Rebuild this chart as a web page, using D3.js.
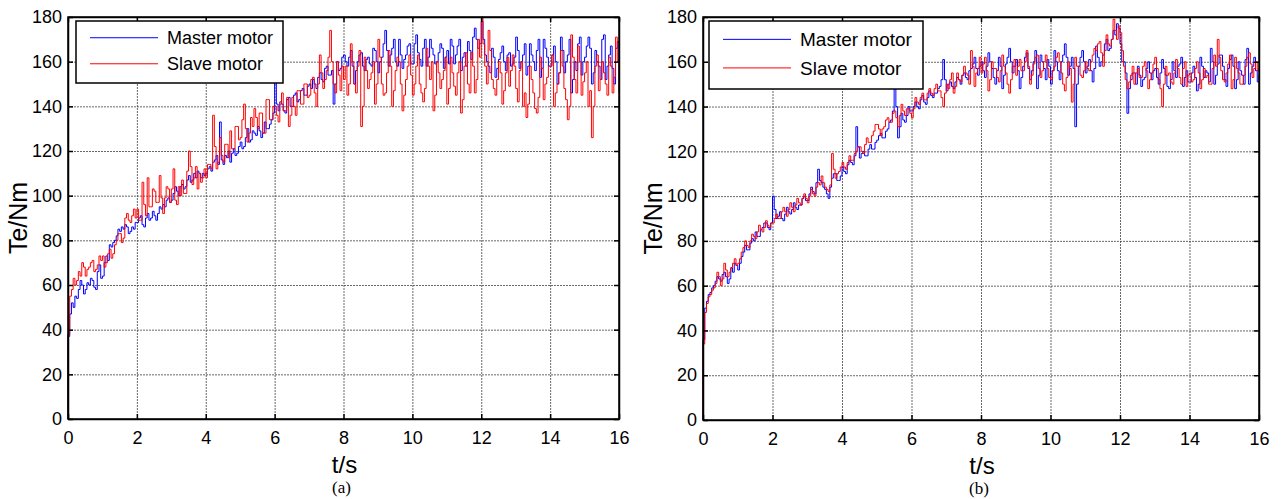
<!DOCTYPE html>
<html>
<head>
<meta charset="utf-8">
<script src="https://cdn.jsdelivr.net/npm/d3@7"></script>
<style>
  body { margin: 0; background: #fff; }
  svg { display: block; }
  .tick text { font-family: Arial, "Liberation Sans", sans-serif; font-size: 18px; fill: #000; }
  .grid line { stroke: #444; stroke-opacity: 0.8; stroke-dasharray: 2,1; }
  .grid path { display: none; }
</style>
</head>
<body>
<script>
// time step of the sampled torque (s)
const timeStep = 0.05;

// x / y ticks
const xTicks = [0, 2, 4, 6, 8, 10, 12, 14, 16];
const yTicks = [0, 20, 40, 60, 80, 100, 120, 140, 160, 180];

// (a) master motor torque, one row per second, t = 0 .. 16 s
const aMaster = [
  37, 47, 52, 50, 55, 54, 58, 62, 60, 56, 58, 61, 60, 63, 62, 59, 58, 66, 69, 63,
  64, 70, 73, 71, 78, 77, 79, 80, 82, 85, 84, 86, 85, 87, 86, 83, 84, 86, 85, 88,
  88, 90, 91, 87, 86, 90, 92, 89, 90, 93, 91, 89, 92, 95, 94, 96, 95, 98, 99, 97,
  98, 101, 104, 102, 100, 104, 105, 103, 104, 107, 109, 106, 107, 110, 108, 111, 110, 108, 110, 109,
  110, 112, 113, 111, 115, 116, 118, 114, 133, 116, 114, 118, 117, 120, 115, 119, 121, 118, 119, 122,
  124, 121, 122, 126, 130, 124, 125, 129, 128, 127, 131, 129, 126, 128, 133, 130, 130, 132, 134, 137,
  152, 141, 138, 142, 141, 138, 137, 143, 144, 140, 140, 145, 146, 142, 143, 147, 148, 145, 145, 149,
  150, 148, 152, 150, 148, 153, 155, 152, 151, 157, 158, 154, 154, 156, 141, 150, 160, 156, 157, 162,
  163, 160, 158, 162, 165, 158, 150, 156, 160, 163, 164, 158, 156, 161, 162, 159, 158, 166, 165, 160,
  155, 160, 162, 168, 174, 165, 158, 163, 166, 170, 160, 158, 170, 163, 157, 161, 163, 167, 168, 159,
  159, 168, 172, 164, 161, 158, 166, 170, 158, 162, 170, 166, 163, 159, 160, 164, 168, 166, 157, 162,
  165, 159, 170, 167, 159, 163, 167, 170, 156, 162, 164, 158, 169, 165, 161, 171, 175, 170, 166, 168,
  178, 170, 163, 160, 158, 155, 166, 162, 153, 157, 161, 164, 167, 160, 156, 163, 164, 158, 159, 162,
  171, 165, 157, 160, 163, 168, 154, 158, 168, 163, 160, 156, 165, 170, 153, 157, 170, 166, 162, 158,
  158, 163, 167, 160, 150, 155, 171, 165, 155, 160, 163, 170, 146, 152, 160, 156, 168, 171, 154, 160,
  162, 167, 171, 166, 150, 155, 165, 160, 158, 152, 170, 172, 152, 158, 163, 167, 157, 150, 166, 169,
  160
];

// (a) slave motor torque
const aSlave = [
  38, 55, 58, 63, 60, 62, 66, 64, 70, 68, 64, 67, 68, 70, 71, 66, 67, 69, 73, 71,
  73, 68, 70, 74, 76, 72, 74, 78, 80, 83, 83, 79, 81, 90, 92, 89, 88, 91, 94, 90,
  94, 89, 89, 106, 96, 91, 108, 95, 95, 103, 102, 97, 97, 109, 99, 92, 99, 104, 103, 97,
  103, 112, 98, 96, 104, 100, 107, 101, 101, 111, 120, 113, 105, 108, 113, 103, 110, 106, 108, 112,
  108, 114, 114, 112, 136, 122, 112, 115, 126, 118, 115, 123, 123, 117, 129, 121, 121, 131, 131, 125,
  126, 134, 141, 130, 124, 128, 135, 131, 139, 135, 130, 137, 137, 128, 128, 143, 143, 134, 134, 140,
  140, 136, 133, 141, 146, 138, 138, 144, 131, 136, 144, 140, 136, 147, 147, 141, 141, 150, 150, 144,
  145, 152, 153, 146, 140, 150, 163, 155, 148, 152, 156, 162, 174, 160, 150, 146, 160, 154, 147, 158,
  152, 158, 145, 150, 168, 160, 150, 146, 158, 165, 131, 140, 162, 156, 148, 152, 155, 160, 141, 150,
  170, 162, 150, 145, 146, 155, 165, 158, 140, 147, 156, 162, 160, 150, 138, 145, 152, 158, 163, 154,
  145, 150, 158, 163, 150, 146, 142, 148, 166, 158, 152, 160, 138, 145, 160, 155, 148, 152, 156, 162,
  141, 148, 162, 155, 149, 145, 155, 160, 137, 143, 158, 164, 150, 146, 164, 158, 146, 152, 170, 162,
  180, 168, 158, 150, 174, 165, 152, 148, 145, 152, 160, 155, 141, 147, 155, 162, 149, 156, 163, 158,
  148, 142, 156, 160, 140, 146, 135, 141, 158, 152, 146, 139, 137, 144, 162, 157, 143, 150, 153, 158,
  158, 163, 140, 146, 150, 155, 165, 158, 148, 143, 134, 140, 172, 162, 152, 146, 167, 160, 145, 151,
  155, 160, 140, 147, 126, 140, 158, 163, 147, 152, 160, 155, 150, 145, 162, 158, 146, 153, 171, 160,
  146
];

// (b) master motor torque
const bMaster = [
  36, 50, 53, 56, 57, 59, 60, 62, 64, 63, 62, 65, 66, 64, 61, 63, 68, 66, 70, 69,
  67, 70, 73, 75, 78, 76, 76, 79, 81, 80, 84, 82, 82, 85, 86, 88, 88, 86, 85, 88,
  100, 94, 90, 91, 93, 90, 89, 92, 95, 93, 92, 94, 97, 95, 94, 96, 96, 99, 100, 98,
  98, 101, 104, 102, 101, 106, 112, 107, 106, 104, 103, 101, 99, 104, 108, 110, 110, 107, 107, 109,
  113, 111, 110, 114, 116, 115, 114, 118, 131, 122, 117, 119, 120, 118, 118, 121, 123, 121, 121, 124,
  125, 127, 128, 126, 126, 129, 130, 133, 134, 138, 148, 140, 126, 131, 137, 134, 133, 136, 140, 138,
  138, 140, 142, 140, 139, 143, 145, 142, 141, 144, 147, 145, 144, 146, 146, 148, 149, 152, 161, 152,
  147, 150, 151, 149, 148, 151, 153, 152, 150, 154, 155, 153, 152, 156, 157, 159, 162, 157, 154, 158,
  160, 156, 153, 158, 164, 160, 157, 153, 150, 156, 162, 158, 148, 154, 159, 162, 166, 160, 155, 158,
  161, 156, 148, 153, 158, 162, 164, 157, 152, 156, 160, 165, 148, 154, 163, 160, 157, 152, 161, 158,
  150, 156, 165, 160, 156, 152, 160, 163, 168, 162, 154, 158, 162, 157, 131, 150, 158, 162, 165, 160,
  155, 158, 161, 156, 151, 157, 167, 162, 158, 160, 163, 168, 170, 165, 166, 170, 174, 172, 177, 175,
  168, 160, 160, 155, 137, 148, 152, 155, 155, 150, 158, 154, 149, 152, 153, 157, 160, 155, 152, 156,
  157, 153, 150, 155, 161, 157, 154, 149, 148, 152, 160, 156, 153, 158, 159, 162, 149, 153, 156, 151,
  151, 155, 158, 153, 147, 150, 162, 158, 153, 156, 155, 151, 166, 160, 150, 154, 159, 163, 163, 158,
  152, 149, 157, 161, 163, 158, 148, 152, 160, 156, 154, 150, 161, 166, 150, 155, 158, 162, 156, 151,
  154
];

// (b) slave motor torque
const bSlave = [
  34, 48, 52, 55, 56, 58, 59, 61, 66, 64, 60, 63, 70, 67, 64, 66, 68, 70, 72, 69,
  70, 72, 75, 77, 80, 78, 77, 80, 83, 82, 81, 84, 87, 85, 84, 86, 89, 87, 86, 88,
  88, 90, 92, 90, 90, 93, 95, 93, 91, 94, 97, 95, 93, 96, 99, 97, 96, 99, 101, 99,
  97, 100, 103, 101, 100, 104, 106, 105, 109, 106, 104, 103, 102, 105, 119, 112, 108, 110, 111, 113,
  115, 113, 112, 115, 118, 116, 116, 119, 120, 122, 122, 120, 119, 123, 126, 124, 124, 127, 129, 132,
  132, 130, 127, 130, 131, 134, 135, 133, 133, 137, 138, 135, 131, 136, 141, 138, 136, 139, 139, 137,
  135, 139, 144, 142, 141, 144, 146, 143, 143, 146, 148, 146, 145, 148, 150, 147, 147, 144, 140, 146,
  150, 148, 152, 155, 146, 149, 155, 152, 151, 154, 158, 155, 154, 150, 165, 158, 149, 155, 157, 162,
  155, 159, 162, 156, 147, 152, 160, 157, 157, 153, 151, 156, 163, 158, 155, 150, 146, 152, 158, 161,
  154, 158, 161, 156, 156, 160, 165, 158, 150, 154, 159, 162, 163, 157, 153, 156, 160, 163, 157, 153,
  152, 156, 158, 162, 164, 160, 155, 150, 147, 153, 160, 157, 142, 150, 162, 158, 158, 154, 153, 156,
  160, 157, 156, 160, 163, 166, 165, 168, 169, 164, 158, 165, 172, 168, 167, 170, 179, 174, 170, 176,
  173, 165, 158, 152, 148, 151, 154, 158, 150, 155, 157, 153, 153, 158, 160, 156, 148, 152, 155, 159,
  162, 157, 152, 148, 140, 150, 158, 154, 155, 151, 150, 155, 161, 157, 153, 150, 157, 160, 149, 154,
  155, 151, 152, 157, 160, 155, 148, 152, 157, 153, 154, 150, 150, 157, 163, 158, 170, 162, 156, 152,
  151, 155, 159, 163, 148, 152, 162, 157, 155, 150, 150, 154, 158, 162, 164, 159, 153, 157, 160, 156,
  157
];

const seriesNames = ['Master motor', 'Slave motor'];
const seriesColors = ['#0000ff', '#ff0000'];

const W = 1281, H = 499;

const svg = d3.select('body').append('svg')
    .attr('width', W)
    .attr('height', H);

// panel layout
const panels = [
  { left: 68, right: 619, top: 17, bottom: 419, caption: '(a)', data: [aMaster, aSlave],
    legend: { x: 76, y: 21, w: 207, h: 62, fs: 18 } },
  { left: 703, right: 1259, top: 17, bottom: 420, caption: '(b)', data: [bMaster, bSlave],
    legend: { x: 709, y: 21, w: 214, h: 68, fs: 19 } }
];

const toPoints = values => [{ t: 0, v: 0 }].concat(values.map((v, i) => ({ t: i * timeStep, v })));

const drawPanel = p => {
    const w = p.right - p.left;
    const h = p.bottom - p.top;

    const xScale = d3.scaleLinear().domain([0, 16]).range([0, w]);
    const yScale = d3.scaleLinear().domain([0, 180]).range([h, 0]);

    const g = svg.append('g')
        .attr('transform', `translate(${p.left}, ${p.top})`);

    // grid
    g.append('g')
        .attr('class', 'grid')
        .attr('transform', `translate(0, ${h})`)
        .call(d3.axisBottom(xScale).tickValues(xTicks.slice(1, -1)).tickSize(-h).tickFormat(''));
    g.append('g')
        .attr('class', 'grid')
        .call(d3.axisLeft(yScale).tickValues(yTicks.slice(1, -1)).tickSize(-w).tickFormat(''));

    // lines
    const line = d3.line()
        .x(d => xScale(d.t))
        .y(d => yScale(d.v))
        .curve(d3.curveStepAfter);

    p.data.forEach((values, k) => {
        g.append('path')
            .datum(toPoints(values))
            .attr('fill', 'none')
            .attr('stroke', seriesColors[k])
            .attr('stroke-width', 1)
            .attr('d', line);
    });

    // axes (ticks inside)
    g.append('g')
        .attr('transform', `translate(0, ${h})`)
        .call(d3.axisBottom(xScale).tickValues(xTicks).tickSizeInner(-5).tickSizeOuter(0).tickPadding(12));
    g.append('g')
        .call(d3.axisLeft(yScale).tickValues(yTicks).tickSizeInner(-5).tickSizeOuter(0).tickPadding(6));
    g.append('g')
        .call(d3.axisTop(xScale).tickValues(xTicks).tickSizeInner(-5).tickSizeOuter(0).tickFormat(''));
    g.append('g')
        .attr('transform', `translate(${w}, 0)`)
        .call(d3.axisRight(yScale).tickValues(yTicks).tickSizeInner(-5).tickSizeOuter(0).tickFormat(''));

    g.selectAll('.domain').attr('stroke', '#000').attr('stroke-width', 1.5);
    g.selectAll('.tick line').filter(function() { return !this.closest('.grid'); })
        .attr('stroke', '#000').attr('stroke-width', 1.5);

    // box
    g.append('rect')
        .attr('width', w).attr('height', h)
        .attr('fill', 'none').attr('stroke', '#000').attr('stroke-width', 1.5);

    // legend
    const L = p.legend;
    const lg = svg.append('g').attr('transform', `translate(${L.x}, ${L.y})`);
    lg.append('rect')
        .attr('width', L.w).attr('height', L.h)
        .attr('fill', '#fff').attr('stroke', '#000').attr('stroke-width', 1.5);
    seriesNames.forEach((name, k) => {
        const cy = L.h * (0.27 + 0.42 * k);
        lg.append('line')
            .attr('x1', 14).attr('x2', 82)
            .attr('y1', cy).attr('y2', cy)
            .attr('stroke', seriesColors[k]).attr('stroke-width', 1);
        lg.append('text')
            .attr('x', 91).attr('y', cy + L.fs * 0.36)
            .attr('font-family', 'Arial, "Liberation Sans", sans-serif')
            .attr('font-size', L.fs)
            .text(name);
    });

    // axis labels
    svg.append('text')
        .attr('x', p.left + w / 2 + 1)
        .attr('y', p.bottom + 54)
        .attr('text-anchor', 'middle')
        .attr('font-family', 'Arial, "Liberation Sans", sans-serif')
        .attr('font-size', 24)
        .text('t/s');

    svg.append('text')
        .attr('transform', `translate(${p.left - 41}, ${p.top + h / 2}) rotate(-90)`)
        .attr('text-anchor', 'middle')
        .attr('font-family', 'Arial, "Liberation Sans", sans-serif')
        .attr('font-size', 25)
        .text('Te/Nm');

    svg.append('text')
        .attr('x', p.left + w / 2 - 2)
        .attr('y', p.bottom + 74)
        .attr('text-anchor', 'middle')
        .attr('font-family', '"Times New Roman", "Liberation Serif", serif')
        .attr('font-size', 17)
        .text(p.caption);
};

panels.forEach(drawPanel);
</script>
</body>
</html>
